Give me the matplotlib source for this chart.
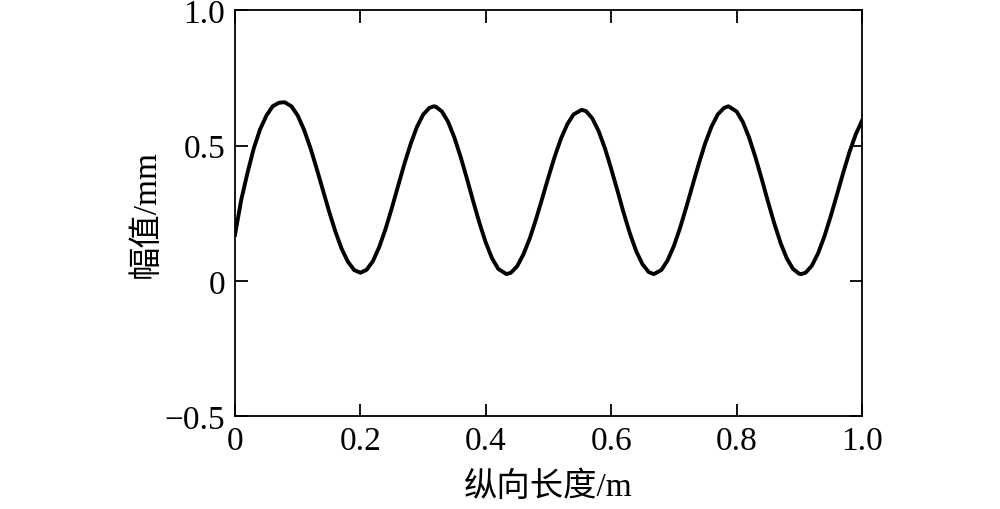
import matplotlib
matplotlib.use("Agg")
import matplotlib.pyplot as plt

# values
length_m = [
    0.00, 0.01, 0.02, 0.03, 0.04, 0.05, 0.06, 0.07, 0.078, 0.08, 0.09,
    0.10, 0.11, 0.12, 0.13, 0.14, 0.15, 0.16, 0.17, 0.18, 0.19, 0.20,
    0.21, 0.22, 0.23, 0.24, 0.25, 0.26, 0.27, 0.28, 0.29, 0.30, 0.31, 0.317,
    0.32, 0.33, 0.34, 0.35, 0.36, 0.37, 0.38, 0.39, 0.40, 0.41, 0.42, 0.433,
    0.44, 0.45, 0.46, 0.47, 0.48, 0.49, 0.50, 0.51, 0.52, 0.53, 0.54, 0.553,
    0.56, 0.57, 0.58, 0.59, 0.60, 0.61, 0.62, 0.63, 0.64, 0.65, 0.66, 0.668,
    0.68, 0.69, 0.70, 0.71, 0.72, 0.73, 0.74, 0.75, 0.76, 0.77, 0.78, 0.787,
    0.80, 0.81, 0.82, 0.83, 0.84, 0.85, 0.86, 0.87, 0.88, 0.89, 0.90, 0.903,
    0.91, 0.92, 0.93, 0.94, 0.95, 0.96, 0.97, 0.98, 0.99, 1.00,
]
amplitude_mm = [
    0.170, 0.300, 0.400, 0.490, 0.560, 0.610, 0.645, 0.658, 0.660, 0.659, 0.645,
    0.611, 0.559, 0.493, 0.417, 0.337, 0.257, 0.183, 0.119, 0.071, 0.040, 0.030,
    0.041, 0.073, 0.125, 0.191, 0.268, 0.350, 0.431, 0.505, 0.568, 0.614, 0.639, 0.645,
    0.644, 0.626, 0.587, 0.529, 0.457, 0.377, 0.293, 0.213, 0.141, 0.083, 0.044, 0.025,
    0.030, 0.054, 0.098, 0.156, 0.227, 0.305, 0.384, 0.460, 0.526, 0.579, 0.615, 0.632,
    0.627, 0.600, 0.553, 0.490, 0.414, 0.333, 0.250, 0.174, 0.109, 0.061, 0.032, 0.025,
    0.040, 0.076, 0.129, 0.197, 0.274, 0.355, 0.435, 0.509, 0.570, 0.615, 0.639, 0.645,
    0.626, 0.587, 0.529, 0.457, 0.377, 0.293, 0.213, 0.141, 0.083, 0.044, 0.026, 0.025,
    0.030, 0.056, 0.102, 0.164, 0.238, 0.318, 0.399, 0.476, 0.541, 0.592,
]

x_ticks = [0, 0.2, 0.4, 0.6, 0.8, 1.0]
x_ticklabels = ["0", "0.2", "0.4", "0.6", "0.8", "1.0"]
y_ticks = [-0.5, 0, 0.5, 1.0]
y_ticklabels = ["\u22120.5", "0", "0.5", "1.0"]

plt.rcParams["font.family"] = ["Liberation Serif", "Noto Sans CJK SC", "DejaVu Sans"]
plt.rcParams["font.size"] = 24

fig = plt.figure(figsize=(10, 5.1), dpi=100)
ax = fig.add_axes([0.235, 0.182, 0.627, 0.796])

ax.plot(length_m, amplitude_mm, color="black", linewidth=2.8,
        solid_joinstyle="round")

ax.set_xlim(0, 1.0)
ax.set_ylim(-0.5, 1.0)
ax.set_xticks(x_ticks)
ax.set_xticklabels(x_ticklabels)
ax.set_yticks(y_ticks)
ax.set_yticklabels(y_ticklabels)

ax.tick_params(direction="in", length=9, width=1.3, top=True, right=True,
               labelsize=24, pad=7)
for s in ax.spines.values():
    s.set_linewidth(1.3)

ax.set_xlabel("纵向长度/m", family=["Liberation Serif", "Noto Sans CJK SC"],
              fontsize=24, labelpad=10)
ax.set_ylabel("幅值/mm", family=["Liberation Serif", "Noto Sans CJK SC"],
              fontsize=24, labelpad=2)

fig.savefig("out.png", dpi=100)
